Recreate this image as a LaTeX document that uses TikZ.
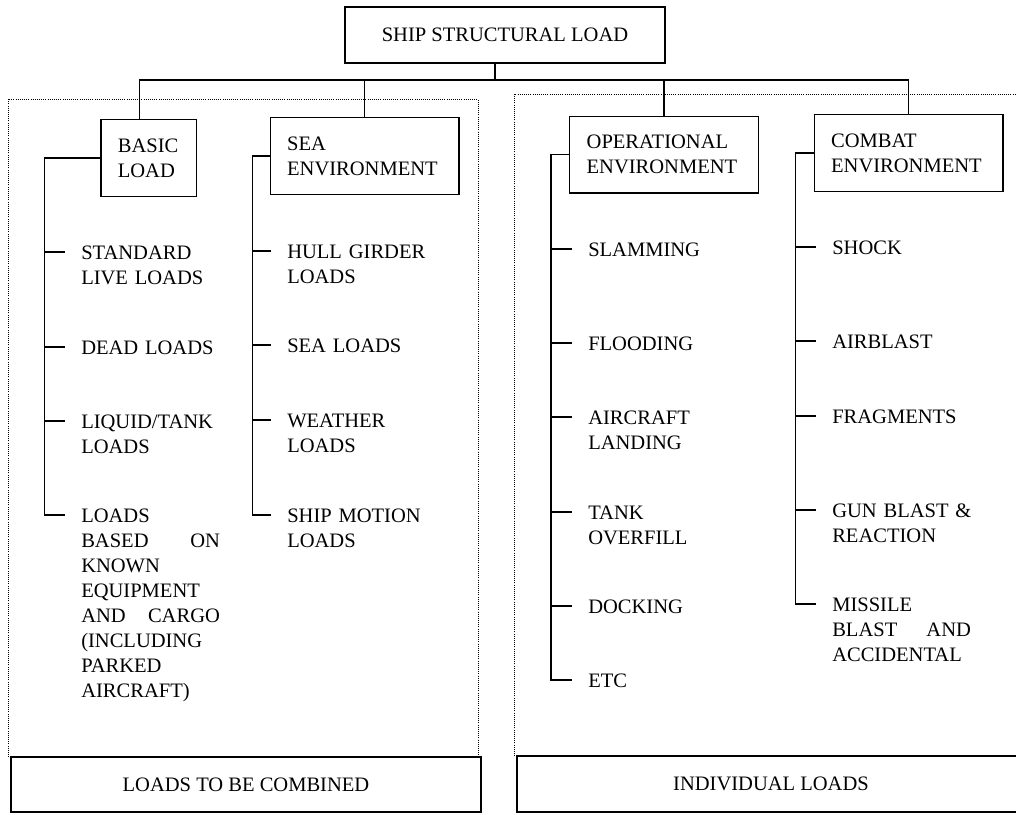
\documentclass[tikz,border=0pt]{standalone}
\usepackage{fontspec}
\setmainfont{Liberation Serif}
\usetikzlibrary{positioning}
\newcommand{\itemfont}{\fontsize{15.4pt}{18.8pt}\selectfont}

\begin{document}
\begin{tikzpicture}[
    x=0.75pt, y=-0.75pt,
    line/.style={line width=1pt},
    frame/.style={draw, line width=0.6pt, densely dotted},
    box/.style={rectangle, draw, line width=1pt, minimum height=42pt, align=center, font=\itemfont},
    cat/.style={rectangle, draw, line width=1pt, align=left, inner xsep=12.75pt, minimum height=57.5pt, text width=116pt, font=\itemfont},
    item/.style={anchor=base west, inner xsep=12pt, inner ysep=0pt, text width=110pt, align=left, font=\itemfont}
]
    \useasboundingbox (0,0) rectangle (1016,814);

    \draw[frame] (8,757) |- (478,99) -- (478,757);
    \draw[frame] (514,756) |- (1030,94);

    \node[box, minimum width=240pt] (top) at (505,35) {SHIP STRUCTURAL LOAD};

    \node[cat, text width=46pt] (basic) at (148.5,158) {BASIC\\LOAD};
    \node[cat] (sea) at (364.5,156) {SEA\\ENVIRONMENT};
    \node[cat] (oper) at (664,154.5) {OPERATIONAL\\ENVIRONMENT};
    \node[cat] (combat) at (908.5,153) {COMBAT\\ENVIRONMENT};

    \coordinate (bus) at (495,80);
    \draw[line] ([xshift=-7.5pt]top.south) -- (bus);
    \draw[line] ([xshift=-7pt]basic.north) |- (combat.north |- bus) -- (combat.north);
    \draw[line] (sea.north) -- (sea.north |- bus);
    \draw[line] (oper.north) -- (oper.north |- bus);

    % basic load
    \node[item] (b1) at (65,259.5) {STANDARD\\LIVE LOADS};
    \node[item] (b2) at (65,354.5) {DEAD LOADS};
    \node[item] (b3) at (65,428.5) {LIQUID/TANK\\LOADS};
    \node[item, text width=104pt] (b4) at (65,522.5) {LOADS\\BASED \hfill ON\\KNOWN\\EQUIPMENT\\AND \hfill CARGO\\(INCLUDING\\PARKED\\AIRCRAFT)};
    \draw[line] (basic.west) -- ++(-56,0) |- ([yshift=5.6pt]b4.base west);
    \foreach \n in {b1,b2,b3}
        \draw[line] ([yshift=5.6pt]\n.base west) -- ++(-20,0);

    % sea environment
    \node[item] (s1) at (271,258.5) {HULL GIRDER\\LOADS};
    \node[item] (s2) at (271,352.5) {SEA LOADS};
    \node[item] (s3) at (271,427.5) {WEATHER\\LOADS};
    \node[item] (s4) at (271,522.5) {SHIP MOTION\\LOADS};
    \draw[line] (sea.west) -- ++(-17,0) |- ([yshift=5.6pt]s4.base west);
    \foreach \n in {s1,s2,s3}
        \draw[line] ([yshift=5.6pt]\n.base west) -- ++(-18,0);

    % operational environment
    \node[item] (o1) at (572,256.5) {SLAMMING};
    \node[item] (o2) at (572,350.5) {FLOODING};
    \node[item] (o3) at (572,424.5) {AIRCRAFT\\LANDING};
    \node[item] (o4) at (572,519.5) {TANK\\OVERFILL};
    \node[item] (o5) at (572,613.5) {DOCKING};
    \node[item] (o6) at (572,687.5) {ETC};
    \draw[line] (oper.west) -- ++(-18,0) |- ([yshift=5.6pt]o6.base west);
    \foreach \n in {o1,o2,o3,o4,o5}
        \draw[line] ([yshift=5.6pt]\n.base west) -- ++(-20,0);

    % combat environment
    \node[item] (c1) at (816,254.5) {SHOCK};
    \node[item] (c2) at (816,348.5) {AIRBLAST};
    \node[item] (c3) at (816,423.5) {FRAGMENTS};
    \node[item] (c4) at (816,517.5) {GUN BLAST \&\\REACTION};
    \node[item, text width=104pt] (c5) at (816,611.5) {MISSILE\\BLAST \hfill AND\\ACCIDENTAL};
    \draw[line] (combat.west) -- ++(-18,0) |- ([yshift=5.6pt]c5.base west);
    \foreach \n in {c1,c2,c3,c4}
        \draw[line] ([yshift=5.6pt]\n.base west) -- ++(-20,0);

    \node[box, minimum width=352.5pt, minimum height=41.25pt] (comb) at (246,784.5) {LOADS TO BE COMBINED};
    \node[box, minimum width=381pt] (indiv) at (771,784) {INDIVIDUAL LOADS};
\end{tikzpicture}
\end{document}
